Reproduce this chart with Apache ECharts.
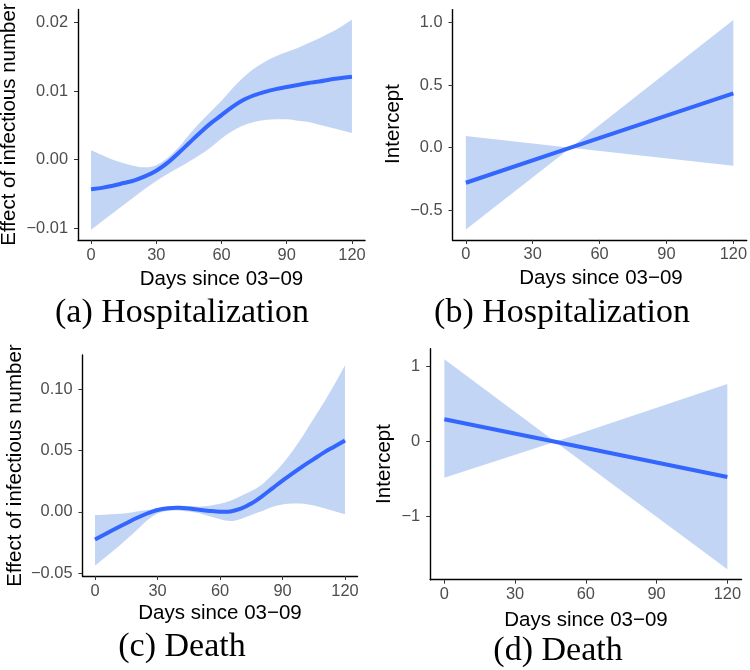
<!DOCTYPE html>
<html>
<head>
<meta charset="utf-8">
<script src="https://cdn.jsdelivr.net/npm/echarts@6/dist/echarts.min.js"></script>
<style>
html,body{margin:0;padding:0;background:#fff;}
#chart{width:750px;height:670px;}
</style>
</head>
<body>
<div id="chart"></div>
<script>
// ---------- data ----------
var xTicks = [0, 30, 60, 90, 120];

// (a) Hospitalization: effect of infectious number
var aDays  = [0, 5, 10, 15, 20, 25, 30, 35, 40, 45, 50, 55, 60, 65, 70, 75, 80, 85, 90, 95, 100, 105, 110, 115, 120];
var aFit   = [-0.0043, -0.0041, -0.0038, -0.0034, -0.0030, -0.0024, -0.0016, -0.0005, 0.0009, 0.0024, 0.0039, 0.0053, 0.0065, 0.0077, 0.0087, 0.0094, 0.0099, 0.0103, 0.0106, 0.0109, 0.0112, 0.0114, 0.0117, 0.0119, 0.0121];
var aUpper = [0.0014, 0.0007, 0.0000, -0.0005, -0.0009, -0.0011, -0.0008, 0.0002, 0.0017, 0.0036, 0.0054, 0.0070, 0.0086, 0.0104, 0.0120, 0.0133, 0.0143, 0.0151, 0.0157, 0.0163, 0.0170, 0.0177, 0.0185, 0.0194, 0.0204];
var aLower = [-0.0102, -0.0090, -0.0078, -0.0066, -0.0054, -0.0042, -0.0031, -0.0021, -0.0012, -0.0003, 0.0007, 0.0018, 0.0031, 0.0042, 0.0050, 0.0055, 0.0058, 0.0059, 0.0059, 0.0057, 0.0055, 0.0051, 0.0047, 0.0043, 0.0039];
var aYTicks = [-0.01, 0, 0.01, 0.02];
var aYLabels = ["\u22120.01", "0.00", "0.01", "0.02"];

// (b) Hospitalization: intercept
var bDays  = [0, 47, 120];
var bFit   = [-0.28, 0.0, 0.435];
var bUpper = [0.094, 0.0, 1.02];
var bLower = [-0.653, 0.0, -0.144];
var bYTicks = [-0.5, 0, 0.5, 1.0];
var bYLabels = ["\u22120.5", "0.0", "0.5", "1.0"];

// (c) Death: effect of infectious number
var cDays  = [0, 5, 10, 15, 20, 25, 30, 35, 40, 45, 50, 55, 60, 65, 70, 75, 80, 85, 90, 95, 100, 105, 110, 115, 120];
var cFit   = [-0.0224, -0.0180, -0.0135, -0.0092, -0.0050, -0.0013, 0.0016, 0.0030, 0.0034, 0.0028, 0.0017, 0.0008, 0.0002, 0.0004, 0.0026, 0.0068, 0.0125, 0.0190, 0.0255, 0.0315, 0.0375, 0.0430, 0.0485, 0.0533, 0.0582];
var cUpper = [-0.0026, -0.0023, -0.0018, -0.0010, 0.0004, 0.0016, 0.0028, 0.0042, 0.0050, 0.0048, 0.0043, 0.0050, 0.0066, 0.0090, 0.0130, 0.0170, 0.0222, 0.0300, 0.0390, 0.0500, 0.0625, 0.0760, 0.0895, 0.1040, 0.1195];
var cLower = [-0.0439, -0.0370, -0.0300, -0.0225, -0.0150, -0.0070, -0.0012, 0.0008, 0.0012, 0.0003, -0.0011, -0.0035, -0.0060, -0.0074, -0.0057, -0.0025, 0.0005, 0.0040, 0.0060, 0.0068, 0.0066, 0.0052, 0.0030, 0.0005, -0.0020];
var cYTicks = [-0.05, 0, 0.05, 0.10];
var cYLabels = ["\u22120.05", "0.00", "0.05", "0.10"];

// (d) Death: intercept
var dDays  = [0, 47, 120];
var dFit   = [0.30, 0.0, -0.47];
var dUpper = [1.10, 0.0, 0.77];
var dLower = [-0.48, 0.0, -1.70];
var dYTicks = [-1, 0, 1];
var dYLabels = ["\u22121", "0", "1"];

var xTitle = "Days since 03\u221209";
var yTitleEffect = "Effect of infectious number";
var yTitleIntercept = "Intercept";
var captions = ["(a) Hospitalization", "(b) Hospitalization", "(c) Death", "(d) Death"];

// ---------- styling / layout ----------
var LINE = '#3366FF';
var BAND = '#c3d5f5';
var TICKCOL = '#4d4d4d';
var SANS = '"Liberation Sans", Arial, Helvetica, sans-serif';
var SERIF = '"Liberation Serif", "Times New Roman", serif';

var panels = [
  {days: aDays, fit: aFit, up: aUpper, lo: aLower, yt: aYTicks, yl: aYLabels, ymin: -0.0117, ymax: 0.0219, smooth: true,
   grid: {left: 78, top: 9.5, width: 287, height: 230.5}},
  {days: bDays, fit: bFit, up: bUpper, lo: bLower, yt: bYTicks, yl: bYLabels, ymin: -0.737, ymax: 1.104, smooth: false,
   grid: {left: 452.5, top: 9.6, width: 297, height: 230.3}},
  {days: cDays, fit: cFit, up: cUpper, lo: cLower, yt: cYTicks, yl: cYLabels, ymin: -0.0522, ymax: 0.1278, smooth: true,
   grid: {left: 82.5, top: 355, width: 275, height: 221}},
  {days: dDays, fit: dFit, up: dUpper, lo: dLower, yt: dYTicks, yl: dYLabels, ymin: -1.84, ymax: 1.24, smooth: false,
   grid: {left: 430.2, top: 348.7, width: 311.3, height: 231}}
];

// path through screen points: Catmull-Rom (smooth) or straight segments
function pathThrough(pts, smooth, moveFirst) {
  var d = (moveFirst ? 'M' : 'L') + pts[0][0].toFixed(2) + ' ' + pts[0][1].toFixed(2);
  for (var i = 0; i < pts.length - 1; i++) {
    var p1 = pts[i], p2 = pts[i + 1];
    if (!smooth) { d += ' L' + p2[0].toFixed(2) + ' ' + p2[1].toFixed(2); continue; }
    var p0 = pts[i - 1] || p1, p3 = pts[i + 2] || p2;
    var c1x = p1[0] + (p2[0] - p0[0]) / 6, c1y = p1[1] + (p2[1] - p0[1]) / 6;
    var c2x = p2[0] - (p3[0] - p1[0]) / 6, c2y = p2[1] - (p3[1] - p1[1]) / 6;
    d += ' C' + c1x.toFixed(2) + ' ' + c1y.toFixed(2) + ' ' + c2x.toFixed(2) + ' ' + c2y.toFixed(2) + ' ' + p2[0].toFixed(2) + ' ' + p2[1].toFixed(2);
  }
  return d;
}

var grids = [], xAxes = [], yAxes = [], series = [];
panels.forEach(function (p, k) {
  grids.push(p.grid);
  xAxes.push({
    type: 'value', gridIndex: k, min: -6, max: 126,
    axisLine: {show: true, onZero: false, lineStyle: {color: '#000', width: 1.4}},
    axisTick: {show: true, length: 4, customValues: xTicks, lineStyle: {color: '#333', width: 1}},
    axisLabel: {customValues: xTicks, margin: 7, color: TICKCOL, fontFamily: SANS, fontSize: 16.4},
    splitLine: {show: false}
  });
  yAxes.push({
    type: 'value', gridIndex: k, min: p.ymin, max: p.ymax,
    axisLine: {show: true, onZero: false, lineStyle: {color: '#000', width: 1.4}},
    axisTick: {show: true, length: 4, customValues: p.yt, lineStyle: {color: '#333', width: 1}},
    axisLabel: {
      customValues: p.yt, margin: 10, color: TICKCOL, fontFamily: SANS, fontSize: 16.4,
      formatter: (function (ticks, labels) {
        return function (v) {
          for (var i = 0; i < ticks.length; i++) if (Math.abs(ticks[i] - v) < 1e-9) return labels[i];
          return '';
        };
      })(p.yt, p.yl)
    },
    splitLine: {show: false}
  });
  series.push({
    type: 'custom', xAxisIndex: k, yAxisIndex: k, silent: true, z: 1, clip: false,
    data: [[p.days[0], p.fit[0]]],
    renderItem: (function (pp) {
      return function (params, api) {
        var up = pp.days.map(function (x, i) { return api.coord([x, pp.up[i]]); });
        var lo = pp.days.map(function (x, i) { return api.coord([x, pp.lo[i]]); }).reverse();
        var fit = pp.days.map(function (x, i) { return api.coord([x, pp.fit[i]]); });
        var band = pathThrough(up, pp.smooth, true) + ' ' + pathThrough(lo, pp.smooth, false) + ' Z';
        return {
          type: 'group',
          children: [
            {type: 'path', shape: {pathData: band}, style: {fill: BAND, stroke: null}},
            {type: 'path', shape: {pathData: pathThrough(fit, pp.smooth, true)},
             style: {fill: null, stroke: LINE, lineWidth: 4, lineCap: 'butt', lineJoin: 'round'}}
          ]
        };
      };
    })(p)
  });
});

function txt(x, y, s, size, font, rot) {
  return {
    type: 'text', x: x, y: y, rotation: rot || 0, silent: true,
    style: {text: s, fill: '#000', font: size + 'px ' + font, textAlign: 'center', textVerticalAlign: 'middle'}
  };
}

var graphics = [
  txt(221.5, 279, xTitle, 20.5, SANS),
  txt(601, 278.5, xTitle, 20.5, SANS),
  txt(220, 613.5, xTitle, 20.5, SANS),
  txt(586, 620, xTitle, 20.5, SANS),
  txt(9, 124.5, yTitleEffect, 20.5, SANS, Math.PI / 2),
  txt(393, 124, yTitleIntercept, 20.5, SANS, Math.PI / 2),
  txt(15, 465.5, yTitleEffect, 20.5, SANS, Math.PI / 2),
  txt(384.5, 464, yTitleIntercept, 20.5, SANS, Math.PI / 2),
  txt(182, 313.5, captions[0], 34, SERIF),
  txt(562, 313.5, captions[1], 34, SERIF),
  txt(182, 647.5, captions[2], 34, SERIF),
  txt(558, 651.5, captions[3], 34, SERIF)
];

var chart = echarts.init(document.getElementById('chart'), null, {renderer: 'canvas'});
chart.setOption({
  animation: false,
  backgroundColor: '#fff',
  grid: grids, xAxis: xAxes, yAxis: yAxes, series: series,
  graphic: graphics
});
</script>
</body>
</html>
